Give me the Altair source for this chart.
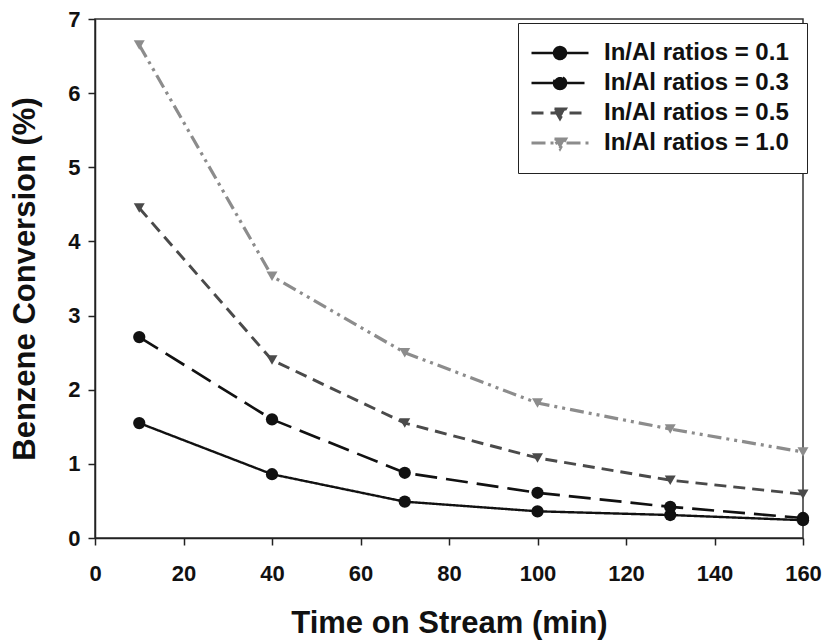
import altair as alt
import pandas as pd

# Time on stream (min) and benzene conversion (%) for each In/Al ratio
time_min = [10, 40, 70, 100, 130, 160]
series_names = [
    "In/Al ratios = 0.1",
    "In/Al ratios = 0.3",
    "In/Al ratios = 0.5",
    "In/Al ratios = 1.0",
]
conv_01 = [1.55, 0.86, 0.49, 0.36, 0.31, 0.24]
conv_03 = [2.71, 1.60, 0.88, 0.61, 0.42, 0.27]
conv_05 = [4.45, 2.40, 1.55, 1.08, 0.78, 0.59]
conv_10 = [6.65, 3.53, 2.50, 1.82, 1.47, 1.16]
x_ticks = [0, 20, 40, 60, 80, 100, 120, 140, 160]
y_ticks = [0, 1, 2, 3, 4, 5, 6, 7]

rows = []
for name, vals in zip(series_names, [conv_01, conv_03, conv_05, conv_10]):
    for t, v in zip(time_min, vals):
        rows.append({"time": t, "conversion": v, "series": name})
df = pd.DataFrame(rows)

FONT = "Liberation Sans"
line_colors = ["#111111", "#111111", "#4a4a4a", "#8c8c8c"]
dash_styles = [[1, 0], [22, 9], [12, 7], [14, 5, 3, 5, 3, 5]]
line_widths = [2.4, 3.2, 2.6, 2.0]

# Legend glyphs: a short line with the series marker in the middle
# (path units are sqrt(symbolSize) / 2 pixels)
circle_glyph = "M-5.7,0H5.7M1.2,0A1.2,1.2,0,1,1,-1.2,0A1.2,1.2,0,1,1,1.2,0Z"
tri_glyph = "M-5.7,0H5.7M-1.1,-0.8H1.1L0,1.1Z"
legend_glyphs = [circle_glyph, circle_glyph, tri_glyph, tri_glyph]

legend = alt.Legend(
    title=None,
    orient="none",
    legendX=423,
    legendY=4,
    padding=18,
    rowPadding=6,
    symbolSize=100,
    symbolStrokeWidth=2.8,
    symbolOffset=12,
    labelOffset=32,
    labelLimit=400,
    labelFont=FONT,
    labelFontSize=24,
    labelFontWeight="bold",
    labelColor="#111111",
    strokeColor="#222222",
    fillColor="white",
)

x_enc = alt.X(
    "time:Q",
    scale=alt.Scale(domain=[0, 160], nice=False),
    axis=alt.Axis(
        values=x_ticks,
        title="Time on Stream (min)",
        labelPadding=18,
        titlePadding=24,
        labelFlush=False,
    ),
)
y_enc = alt.Y(
    "conversion:Q",
    scale=alt.Scale(domain=[0, 7], nice=False),
    axis=alt.Axis(
        values=y_ticks,
        title="Benzene Conversion (%)",
        labelPadding=8,
        titlePadding=26,
    ),
)
color_enc = alt.Color(
    "series:N",
    scale=alt.Scale(domain=series_names, range=line_colors),
    legend=legend,
)

base = alt.Chart(df)

# Carries the shape scale used by the legend glyphs; draws no marks itself
key = (
    base.mark_point(filled=True, opacity=1)
    .encode(
        x=x_enc,
        y=y_enc,
        color=color_enc,
        shape=alt.Shape(
            "series:N",
            scale=alt.Scale(domain=series_names, range=legend_glyphs),
            legend=legend,
        ),
    )
    .transform_filter("datum.time < 0")
)

lines = base.mark_line(strokeCap="butt").encode(
    x=x_enc,
    y=y_enc,
    color=color_enc,
    strokeDash=alt.StrokeDash(
        "series:N",
        scale=alt.Scale(domain=series_names, range=dash_styles),
        legend=legend,
    ),
    strokeWidth=alt.StrokeWidth(
        "series:N",
        scale=alt.Scale(domain=series_names, range=line_widths),
        legend=None,
    ),
)

circles = (
    base.mark_point(shape="circle", filled=True, size=150, opacity=1)
    .encode(x=x_enc, y=y_enc, color=color_enc)
    .transform_filter(alt.FieldOneOfPredicate(field="series", oneOf=series_names[:2]))
)

triangles = (
    base.mark_point(shape="triangle-down", filled=True, size=120, opacity=1)
    .encode(x=x_enc, y=y_enc, color=color_enc)
    .transform_filter(alt.FieldOneOfPredicate(field="series", oneOf=series_names[2:]))
)

chart = (
    alt.layer(key, lines, circles, triangles)
    .properties(
        width=708,
        height=519,
        padding={"left": 95, "top": 19, "right": 25, "bottom": 105},
        autosize=alt.AutoSizeParams(type="none"),
        background="white",
    )
    .configure_view(stroke="#333333", strokeWidth=1.5)
    .configure_axis(
        grid=False,
        domainColor="#222222",
        domainWidth=1.5,
        tickColor="#222222",
        tickWidth=1.5,
        tickSize=7,
        labelFont=FONT,
        labelFontSize=22,
        labelFontWeight="bold",
        labelColor="#111111",
        titleFont=FONT,
        titleFontSize=31,
        titleFontWeight="bold",
        titleColor="#111111",
    )
)

chart.save("out.html", embed_options={"renderer": "svg", "actions": False})
